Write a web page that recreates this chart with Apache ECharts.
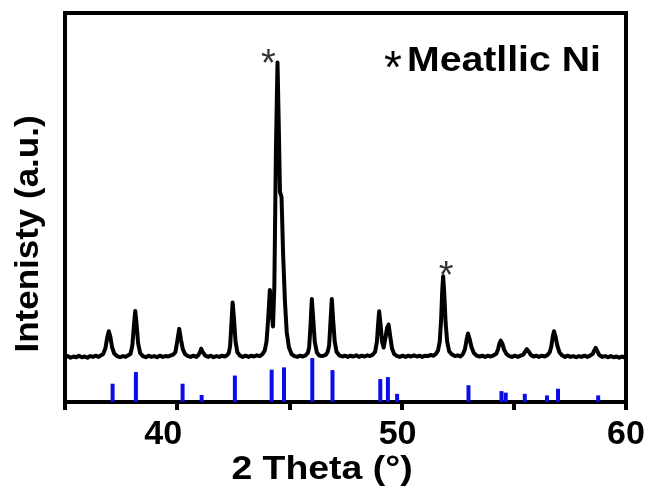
<!DOCTYPE html>
<html>
<head>
<meta charset="utf-8">
<script src="https://cdn.jsdelivr.net/npm/echarts@6/dist/echarts.min.js"></script>
<style>
html,body{margin:0;padding:0;background:#fff;}
#chart{width:648px;height:490px;}
</style>
</head>
<body>
<div id="chart"></div>
<script>
// X-ray diffraction pattern (2 Theta in degrees, intensity in a.u.)
const pattern = [
[35.00,11.5],[35.12,11.8],[35.25,11.4],[35.38,11.7],[35.50,11.5],[35.62,11.9],[35.75,11.5],[35.88,11.7],[36.00,11.4],[36.12,11.8],[36.25,11.6],[36.38,11.9],[36.50,11.6],[36.60,12.0],
[36.70,12.3],[36.80,13.8],[36.88,16.5],[36.95,18.2],[37.02,16.8],[37.10,14.0],[37.20,12.4],[37.32,11.8],
[37.45,11.5],[37.58,11.8],[37.70,11.6],[37.82,12.0],
[37.92,12.4],[38.00,14.5],[38.07,19.5],[38.13,23.4],[38.19,20.0],[38.26,15.0],[38.35,12.6],[38.47,11.8],
[38.60,11.5],[38.72,11.9],[38.85,11.6],[38.98,11.8],[39.10,11.5],[39.22,11.9],[39.35,11.6],[39.48,11.8],[39.60,11.7],[39.72,12.0],[39.82,12.2],
[39.92,12.8],[40.00,15.5],[40.09,18.8],[40.17,16.0],[40.25,13.6],[40.35,12.3],[40.48,11.8],
[40.60,11.6],[40.72,11.9],[40.85,11.6],[40.95,12.1],
[41.02,12.9],[41.07,13.7],[41.14,12.8],[41.25,11.9],
[41.38,11.6],[41.50,11.9],[41.62,11.5],[41.75,11.8],[41.88,11.6],[42.00,11.9],[42.12,11.7],[42.22,12.0],[42.30,12.6],
[42.36,14.5],[42.42,20.5],[42.47,25.6],[42.53,21.5],[42.60,15.5],[42.68,12.8],[42.80,11.9],
[42.92,11.6],[43.05,11.9],[43.18,11.6],[43.30,11.9],[43.42,11.7],[43.55,12.0],[43.68,11.8],[43.80,12.3],[43.90,13.2],
[43.98,15.5],[44.05,21.0],[44.13,28.8],[44.20,23.5],[44.27,19.4],[44.33,30.0],[44.40,65.0],[44.47,87.3],[44.53,70.0],[44.58,54.0],[44.65,52.7],[44.72,38.0],[44.80,26.0],[44.88,18.0],[44.98,14.0],[45.10,12.3],
[45.22,11.8],[45.35,11.6],[45.48,11.9],[45.60,11.7],[45.72,12.0],[45.82,12.6],
[45.88,14.0],[45.94,19.5],[46.00,26.5],[46.06,21.5],[46.13,15.5],[46.22,12.8],[46.32,12.0],
[46.42,11.8],[46.52,11.9],[46.62,12.1],[46.70,12.8],
[46.77,14.5],[46.83,20.5],[46.89,26.5],[46.95,21.0],[47.02,15.5],[47.10,12.9],[47.22,12.0],
[47.35,11.7],[47.48,11.9],[47.60,11.6],[47.72,11.9],[47.85,11.7],[47.98,12.0],[48.10,11.6],[48.22,11.9],[48.35,11.7],[48.48,12.0],[48.60,11.8],[48.72,12.2],[48.82,12.9],
[48.90,15.5],[48.96,20.5],[49.00,23.3],[49.06,20.0],[49.13,15.5],[49.20,14.0],[49.28,16.5],[49.35,19.0],[49.42,19.9],[49.49,17.0],[49.57,13.8],[49.67,12.3],[49.80,11.8],
[49.92,11.6],[50.05,11.9],[50.18,11.6],[50.30,11.9],[50.42,11.7],[50.55,12.0],[50.68,11.7],[50.80,11.9],[50.92,11.6],[51.05,11.9],[51.18,11.8],[51.30,12.1],[51.42,11.9],[51.52,12.3],[51.62,13.2],
[51.70,15.5],[51.76,21.0],[51.81,28.5],[51.85,32.3],[51.90,28.0],[51.96,20.5],[52.03,15.5],[52.12,13.0],[52.25,12.2],
[52.38,11.8],[52.50,12.0],[52.62,11.7],[52.72,12.2],[52.82,13.5],
[52.89,15.8],[52.96,17.6],[53.03,16.2],[53.12,14.0],[53.22,12.6],[53.35,11.9],
[53.48,11.7],[53.60,11.9],[53.72,11.6],[53.85,11.9],[53.98,11.7],[54.10,12.0],[54.22,12.4],[54.30,13.6],
[54.36,15.0],[54.42,15.8],[54.49,15.0],[54.57,13.4],[54.68,12.3],[54.80,11.8],
[54.92,11.6],[55.05,11.9],[55.18,11.6],[55.30,11.9],[55.42,12.2],
[55.50,12.9],[55.58,13.6],[55.66,13.0],[55.76,12.1],[55.88,11.7],
[56.00,11.9],[56.12,11.6],[56.25,11.9],[56.38,11.7],[56.50,12.1],[56.60,12.8],
[56.67,14.2],[56.73,16.6],[56.79,18.2],[56.86,16.8],[56.94,14.5],[57.03,12.8],[57.15,12.0],
[57.28,11.6],[57.40,11.9],[57.52,11.6],[57.65,11.8],[57.78,11.5],[57.90,11.8],[58.02,11.6],[58.15,11.9],[58.28,11.6],[58.40,11.9],[58.52,12.4],
[58.58,13.2],[58.65,13.9],[58.72,13.1],[58.82,12.0],
[58.95,11.6],[59.08,11.8],[59.20,11.5],[59.32,11.8],[59.45,11.5],[59.58,11.7],[59.70,11.4],[59.82,11.7],[59.92,11.5],[60.00,11.6]
];

// Reference card: stick positions (2 Theta) and relative intensities (a.u.)
const refPositions = [37.12,38.16,40.24,41.09,42.57,44.21,44.76,46.02,46.92,49.05,49.39,49.80,52.98,54.45,54.64,55.49,56.48,56.97,58.76];
const refIntensity = [4.7,7.7,4.7,1.8,6.8,8.3,8.9,11.3,8.2,5.9,6.4,2.1,4.3,2.8,2.4,2.1,1.7,3.4,1.7];

// Peaks marked as metallic Ni
const niPeakPositions = [44.47, 51.85];
const niPeakIntensity = [87.3, 32.3];

// Labelled x ticks
const xTicks = [40, 50, 60];

const FONT = '"Liberation Sans", Arial, Helvetica, sans-serif';

const sticks = refPositions.map((x, i) => [x, refIntensity[i]]);
const starOffsets = [[-9, 27], [3, 25]];
const stars = niPeakPositions.map((x, i) => ({
  value: [x, niPeakIntensity[i]],
  label: { offset: starOffsets[i] }
}));

const tickFont = { fontFamily: FONT, fontWeight: 'bold', fontSize: 34, color: '#000' };
const richTicks = {
  t40: Object.assign({ padding: [0, 28, 0, 0] }, tickFont),
  t50: Object.assign({ padding: [0, 8, 0, 0] }, tickFont),
  t60: Object.assign({ padding: [0, 0, 0, 0] }, tickFont)
};

const chart = echarts.init(document.getElementById('chart'), null, { renderer: 'canvas' });
chart.setOption({
  animation: false,
  backgroundColor: '#ffffff',
  grid: { left: 65, right: 22, top: 13, bottom: 88, show: true, borderColor: '#000', borderWidth: 4, backgroundColor: 'transparent' },
  xAxis: {
    type: 'value', min: 35, max: 60, interval: 5,
    axisLine: { show: true, onZero: false, lineStyle: { color: '#000', width: 4 } },
    axisTick: { show: true, inside: false, length: 8, lineStyle: { color: '#000', width: 4 } },
    axisLabel: Object.assign({
      margin: 16,
      rich: richTicks,
      formatter: v => (xTicks.indexOf(v) >= 0 ? '{t' + v + '|' + v + '}' : '')
    }, tickFont),
    splitLine: { show: false }
  },
  yAxis: {
    type: 'value', min: 0, max: 100,
    axisLine: { show: true, lineStyle: { color: '#000', width: 4 } },
    axisTick: { show: false }, axisLabel: { show: false }, splitLine: { show: false }
  },
  graphic: [
    { type: 'text', x: 29, y: 234, rotation: Math.PI / 2, scaleX: 1.06,
      style: { text: 'Intenisty (a.u.)', font: 'bold 33px ' + FONT, fill: '#000', textAlign: 'center', textVerticalAlign: 'middle' } },
    { type: 'text', x: 322, y: 453, scaleX: 1.1,
      style: { text: '2 Theta (°)', font: 'bold 34px ' + FONT, fill: '#000', textAlign: 'center', textVerticalAlign: 'top' } },
    { type: 'text', x: 384, y: 47,
      style: { text: '*', font: 'normal 46px ' + FONT, fill: '#000', textAlign: 'left', textVerticalAlign: 'top' } },
    { type: 'text', x: 407, y: 44, scaleX: 1.12,
      style: { text: 'Meatllic Ni', font: 'bold 35px ' + FONT, fill: '#000', textAlign: 'left', textVerticalAlign: 'top' } }
  ],
  series: [
    { type: 'bar', data: sticks, barWidth: 4, itemStyle: { color: '#0c0ce8' }, z: 2 },
    { type: 'line', data: pattern, showSymbol: false, symbol: 'none',
      lineStyle: { color: '#000', width: 4, join: 'round' }, z: 3 },
    { type: 'scatter', data: stars, symbolSize: 0, z: 4,
      label: { show: true, formatter: '*', position: 'top', fontFamily: FONT, fontSize: 38, color: '#000' } }
  ]
});
</script>
</body>
</html>
